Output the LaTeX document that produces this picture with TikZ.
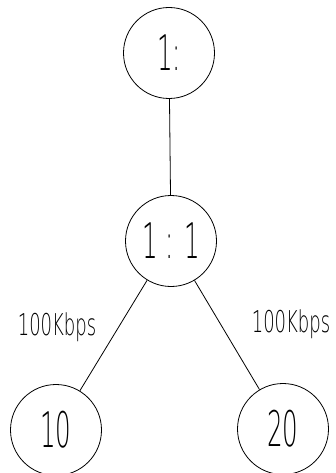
\documentclass[tikz,border=0pt]{standalone}
\usepackage{graphicx}
\usepackage{fontspec}
\newfontfamily\thinfont{DejaVu Sans ExtraLight}
\newcommand{\numtxt}[1]{\scalebox{0.5}[1]{\thinfont\fontsize{49}{49}\selectfont #1}}
\newcommand{\bwtxt}[1]{\scalebox{0.6}[1]{\thinfont\fontsize{30}{30}\selectfont #1}}
\begin{document}
\begin{tikzpicture}[x=1pt,y=-1pt,
  vnode/.style={circle,draw,line width=0.8pt,minimum size=91pt,inner sep=0pt},
  link/.style={line width=0.8pt},
  bw/.style={inner sep=0pt}]
\useasboundingbox (0,0) rectangle (335,473);
\node[vnode] (top) at (169,53) {\numtxt{1:}};
\node[vnode] (mid) at (171,241) {\numtxt{1 : 1}};
\node[vnode] (left) at (56,430) {\numtxt{10}};
\node[vnode] (right) at (283,429) {\numtxt{20}};
\draw[link] (top) -- (mid);
\draw[link] (mid) -- (left);
\draw[link] (mid) -- (right);
\node[bw] (lab1) at (57,327) {\bwtxt{100Kbps}};
\node[bw] (lab2) at (291,324) {\bwtxt{100Kbps}};
\end{tikzpicture}
\end{document}
